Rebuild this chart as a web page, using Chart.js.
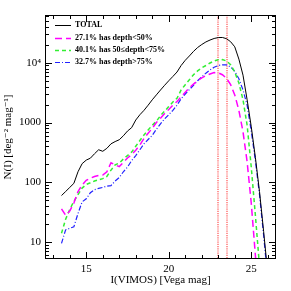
<!DOCTYPE html>
<html><head><meta charset="utf-8">
<script src="https://cdn.jsdelivr.net/npm/chart.js@4/dist/chart.umd.min.js"></script>
<style>html,body{margin:0;padding:0;background:#fff;overflow:hidden}#wrap{width:291px;height:291px}</style>
</head><body><div id="wrap"><canvas id="c" width="291" height="291"></canvas></div>
<script>
// Magnitude bins (I, VIMOS, Vega)
const mags = [13.5,13.75,14.0,14.25,14.5,14.75,15.0,15.25,15.5,15.75,16.0,16.25,16.5,16.75,17.0,17.25,17.5,17.75,18.0,18.25,18.5,18.75,19.0,19.25,19.5,19.75,20.0,20.25,20.5,20.75,21.0,21.25,21.5,21.75,22.0,22.25,22.5,22.75,23.0,23.25,23.5,23.75,24.0,24.25,24.5,24.75,25.0,25.25,25.5,25.75,26.0];
// N(I) [deg^-2 mag^-1]
const total = [60,70,82,96,150,205,235,253,300,350,330,370,440,480,515,600,720,820,1100,1350,1600,1950,2400,2900,3500,4200,5000,5900,7000,9000,11000,13000,15500,18000,20200,22300,24000,25500,26400,26500,25300,22500,18500,11500,6200,2400,850,260,70,15,3];
const shallow = [36,28,33,45,70,90,108,117,125,130,132,150,212,195,183,215,255,290,345,420,540,660,800,1000,1180,1420,1650,1950,2250,2700,3200,3800,4400,5000,5600,6100,6500,6850,6800,6300,5500,4300,2900,1600,700,220,45,6,0.8,null,null];
const medium = [14,24,35,48,62,80,92,98,105,110,115,125,160,195,210,245,280,320,400,500,620,750,900,1050,1300,1550,1850,2200,2550,3500,4300,5200,6300,7300,8200,9000,9900,10700,11200,11300,10700,9300,7000,4600,2400,900,180,28,4,null,null];
const deep = [9.5,16,17,18,30,47,53,67,75,79,82,86,88,105,120,150,180,230,280,350,440,520,610,770,950,1150,1350,1600,1950,2500,3000,3550,4200,5000,5800,6700,7600,8400,9000,9250,9200,8500,7200,5400,3500,1950,720,230,62,13,2.4];
const seriesLabels = ['TOTAL','27.1% has depth<50%','40.1% has 50\u2264depth<75%','32.7% has depth>75%'];
const cutMags = [23.0, 23.5];
const xMajor = [15,20,25];
const xMinor = [13,14,16,17,18,19,21,22,23,24,26];
const yMajor = [10,100,1000,10000];
const yMajorLabels = ['10','100','1000','10\u2074'];
const yMinor = [6,7,8,9,20,30,40,50,60,70,80,90,200,300,400,500,600,700,800,900,2000,3000,4000,5000,6000,7000,8000,9000,20000,30000,40000,50000,60000];

const styles = [
  {color:'#000000', width:1, dash:[]},
  {color:'#ff00ff', width:1.5, dash:[7,4]},
  {color:'#33ee33', width:1.5, dash:[4,3]},
  {color:'#2222ff', width:1.2, dash:[5,2,1,2]}
];
const seriesData = [total, shallow, medium, deep];
const serif = "'Liberation Serif', 'DejaVu Serif', serif";

const datasets = seriesData.map((arr,k)=>({
  label: seriesLabels[k],
  data: mags.map((m,i)=>({x:m, y:arr[i]})),
  borderColor: styles[k].color,
  borderWidth: styles[k].width,
  borderDash: styles[k].dash,
  pointRadius: 0,
  tension: 0,
  fill: false,
  spanGaps: false
}));

const framePlugin = {
  id: 'frame',
  beforeDatasetsDraw(chart){
    const ctx = chart.ctx, a = chart.chartArea, xs = chart.scales.x;
    ctx.save();
    ctx.strokeStyle = 'rgb(255,95,95)'; ctx.lineWidth = 1.3; ctx.setLineDash([1.2,1]);
    cutMags.forEach(m=>{
      const px = Math.round(xs.getPixelForValue(m));
      ctx.beginPath(); ctx.moveTo(px,a.top); ctx.lineTo(px,a.bottom); ctx.stroke();
    });
    ctx.restore();
  },
  afterDatasetsDraw(chart){
    const ctx = chart.ctx, a = chart.chartArea, xs = chart.scales.x, ys = chart.scales.y;
    ctx.save();
    ctx.strokeStyle = '#000'; ctx.lineWidth = 1; ctx.setLineDash([]);
    const L = Math.round(a.left)+0.5, R = Math.round(a.right)-0.5, T = Math.round(a.top)+0.5, B = Math.round(a.bottom)-0.5;
    ctx.strokeRect(L, T, R-L, B-T);
    const tick = (v, len, axis) => {
      if(axis==='x'){
        const p = Math.round(xs.getPixelForValue(v))+0.5;
        ctx.beginPath(); ctx.moveTo(p,B); ctx.lineTo(p,B-len); ctx.moveTo(p,T); ctx.lineTo(p,T+len); ctx.stroke();
      } else {
        const p = Math.round(ys.getPixelForValue(v))+0.5;
        if(p < a.top || p > a.bottom) return;
        ctx.beginPath(); ctx.moveTo(L,p); ctx.lineTo(L+len,p); ctx.moveTo(R,p); ctx.lineTo(R-len,p); ctx.stroke();
      }
    };
    xMajor.forEach(v=>tick(v,6.5,'x'));
    xMinor.forEach(v=>tick(v,3.5,'x'));
    yMajor.forEach(v=>tick(v,6.5,'y'));
    yMinor.forEach(v=>tick(v,3.5,'y'));
    // legend
    const rows = [25, 37.5, 50, 61.5];
    ctx.font = "bold 8px " + serif;
    ctx.textBaseline = 'middle'; ctx.textAlign = 'left'; ctx.fillStyle = '#000';
    seriesLabels.forEach((lab,k)=>{
      const y = Math.round(rows[k])+0.5;
      ctx.strokeStyle = styles[k].color; ctx.lineWidth = styles[k].width; ctx.setLineDash(styles[k].dash);
      ctx.beginPath(); ctx.moveTo(55,y); ctx.lineTo(71,y); ctx.stroke();
      ctx.fillText(lab, 75, rows[k]);
    });
    ctx.restore();
  }
};

new Chart(document.getElementById('c'), {
  type: 'line',
  data: { datasets },
  plugins: [framePlugin],
  options: {
    responsive: false, animation: false, devicePixelRatio: 1,
    layout: { padding: { left: 0, right: 15, top: 15, bottom: 0 } },
    plugins: { legend: { display: false }, tooltip: { enabled: false } },
    scales: {
      x: {
        type: 'linear', min: 12.5, max: 26.5,
        grid: { display: false, drawTicks: false }, border: { display: false },
        afterBuildTicks: s => { s.ticks = xMajor.map(v=>({value:v})); },
        afterFit: s => { s.height = 32; },
        ticks: { padding: 4, color: '#000', font: { family: serif, size: 11 }, maxRotation: 0, autoSkip: false,
                 callback: v => String(v) },
        title: { display: true, text: 'I(VIMOS) [Vega mag]', color: '#000', font: { family: serif, size: 11 }, padding: { top: 0, bottom: 4 } }
      },
      y: {
        type: 'logarithmic', min: 5.2, max: 63000,
        grid: { display: false, drawTicks: false }, border: { display: false },
        afterBuildTicks: s => { s.ticks = yMajor.map(v=>({value:v})); },
        afterFit: s => { s.width = 45; },
        ticks: { padding: 4, color: '#000', font: { family: serif, size: 11 }, autoSkip: false,
                 callback: v => { const i = yMajor.indexOf(v); return i>=0 ? yMajorLabels[i] : ''; } },
        title: { display: true, text: 'N(I) [deg\u207B\u00B2 mag\u207B\u00B9]', color: '#000', font: { family: serif, size: 11 }, padding: { top: 2, bottom: 0 } }
      }
    }
  }
});
</script></body></html>
